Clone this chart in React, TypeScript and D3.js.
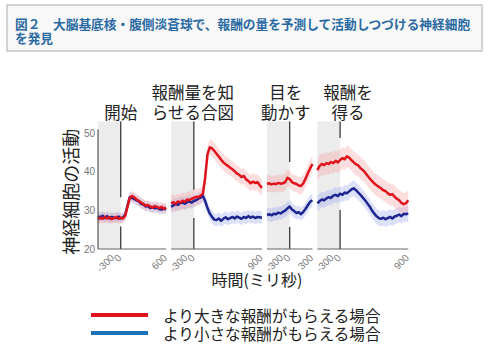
import * as d3 from "d3";

// ---- data ----
const panelTitles = [["開始"], ["報酬量を知", "らせる合図"], ["目を", "動かす"], ["報酬を", "得る"]];
const panelRanges: [number, number][] = [[-300, 600], [-300, 900], [-300, 300], [-300, 900]];
const panelTicks = [[-300, 0, 600], [-300, 0, 900], [-300, 0, 300], [-300, 0, 900]];
const yTicks = [20, 30, 40, 50];

// sample times, 30 ms apart
const sampleStep = 30;

// 大きな報酬 (red)
const bigReward = [
  [27.6, 28.1, 27.8, 28.3, 27.9, 28.2, 27.7, 28.0, 28.3, 27.8, 28.1, 27.9, 28.6, 31.0, 33.2, 33.7, 33.3, 32.8, 32.4, 32.0, 31.6, 31.2, 31.4, 31.0, 30.7, 31.1, 30.9, 30.6, 30.9, 30.4, 30.7],
  [31.8, 32.1, 31.7, 32.3, 32.0, 32.5, 32.2, 32.8, 32.6, 33.0, 33.2, 33.5, 33.4, 33.8, 34.3, 38.5, 44.5, 46.3, 46.0, 45.4, 44.6, 43.9, 43.1, 42.4, 41.9, 41.5, 41.0, 40.6, 40.1, 39.5, 39.2, 38.6, 38.9, 38.0, 37.6, 37.0, 37.4, 37.1, 37.3, 36.5, 35.8],
  [36.8, 37.0, 36.7, 36.9, 36.8, 37.1, 36.9, 37.0, 37.3, 38.4, 38.1, 37.3, 37.0, 36.8, 36.4, 36.3, 37.0, 38.2, 39.6, 40.8, 42.0],
  [40.4, 41.5, 42.0, 41.7, 42.2, 42.0, 42.5, 42.2, 42.8, 42.4, 43.0, 43.5, 43.2, 44.0, 43.6, 43.0, 42.4, 41.9, 41.6, 40.9, 40.4, 39.8, 39.0, 38.3, 37.6, 37.0, 36.5, 36.1, 35.7, 35.2, 35.0, 34.4, 34.0, 34.2, 33.5, 33.0, 32.6, 31.9, 31.6, 31.8, 32.6],
];

// 小さな報酬 (blue)
const smallReward = [
  [28.4, 28.2, 28.6, 28.0, 28.5, 27.9, 28.3, 28.1, 28.0, 28.4, 27.9, 28.2, 28.8, 31.3, 33.4, 33.2, 32.9, 32.6, 32.3, 31.7, 31.5, 31.0, 31.1, 30.6, 30.8, 30.5, 30.7, 30.3, 30.2, 30.4, 30.3],
  [30.9, 31.3, 31.6, 31.4, 31.9, 32.0, 31.7, 32.1, 32.3, 32.0, 32.4, 32.6, 33.0, 33.3, 33.7, 32.4, 30.6, 29.2, 28.3, 27.6, 27.5, 27.9, 27.3, 27.8, 28.2, 27.7, 28.0, 28.3, 27.9, 28.4, 28.1, 27.8, 28.3, 28.0, 28.5, 28.1, 28.4, 28.0, 28.3, 28.2, 28.1],
  [28.8, 29.0, 28.7, 29.1, 29.0, 29.4, 29.2, 29.6, 29.9, 30.5, 31.0, 30.2, 29.8, 29.3, 29.5, 29.0, 29.6, 30.4, 31.3, 32.2, 32.6],
  [31.8, 32.4, 32.8, 32.6, 33.1, 33.4, 33.2, 33.8, 34.0, 33.7, 34.3, 34.0, 34.6, 34.4, 34.9, 35.4, 35.7, 35.2, 34.6, 34.0, 33.3, 32.6, 31.8, 31.0, 30.0, 29.2, 28.5, 28.0, 27.8, 28.1, 27.7, 28.0, 28.3, 27.9, 28.4, 28.6, 28.9, 28.5, 29.1, 29.0, 29.2],
];

// band half widths per panel
const bigSem = [1.3, 2.1, 2.2, 2.8];
const smallSem = [1.3, 1.6, 1.7, 2.0];

// where the 0 ms marker is hidden by the traces
const zeroGaps: [number, number][] = [[25.8, 33.4], [28.0, 35.3], [25.7, 42.5], [30.1, 48.7]];

const legendLabels = ["より大きな報酬がもらえる場合", "より小さな報酬がもらえる場合"];

// ---- layout ----
const W = 490;
const H = 351;
const font = "'Noto Sans CJK JP', 'Noto Sans', sans-serif";
const numFont = "'Liberation Sans', Arial, sans-serif";
const left = 98;
const pxPerMs = 0.0757;
const panelGap = 5;
const titleShift = [0, -1, -4, 8];

const red = "#e0121c";
const navy = "#1d2590";

const y = d3.scaleLinear().domain([20, 50]).range([249, 133]);

type Pt = { t: number; v: number; s: number };

export default function App() {
  let cursor = left;
  const panels = panelRanges.map((r, i) => {
    const w = (r[1] - r[0]) * pxPerMs;
    const x = d3.scaleLinear().domain(r).range([cursor, cursor + w]);
    cursor += w + panelGap;
    const mk = (vals: number[], s: number): Pt[] => vals.map((v, k) => ({ t: r[0] + k * sampleStep, v, s }));
    return { i, x, big: mk(bigReward[i], bigSem[i]), small: mk(smallReward[i], smallSem[i]) };
  });

  return (
    <svg width={W} height={H} style={{ position: "fixed", left: 0, top: 0 }} fontFamily={font}>
      <rect width={W} height={H} fill="#fff" />

      {/* title box */}
      <rect x={7} y={5} width={475} height={46} fill="#f8f8f8" stroke="#c6c6c6" strokeWidth={1.5} />
      <text x={15} y={29} fontSize={12.7} fontWeight="bold" fill="#2a6aa3">
        図２　大脳基底核・腹側淡蒼球で、報酬の量を予測して活動しつづける神経細胞
      </text>
      <text x={15} y={42.5} fontSize={12.7} fontWeight="bold" fill="#2a6aa3">を発見</text>

      {panels.map(({ i, x, big, small }) => {
        const line = d3.line<Pt>().x((d) => x(d.t)).y((d) => y(d.v));
        const area = d3.area<Pt>().x((d) => x(d.t)).y0((d) => y(d.v - d.s)).y1((d) => y(d.v + d.s));
        const [x0, x1] = x.range();
        const gap = zeroGaps[i];
        return (
          <g key={i}>
            <rect x={x0} y={y(53)} width={x(0) - x0} height={y(20) - y(53)} fill="#ececec" />
            <line x1={x(0)} x2={x(0)} y1={y(53)} y2={y(gap[1])} stroke="#3a3a3a" strokeWidth={1.3} />
            <line x1={x(0)} x2={x(0)} y1={y(gap[0])} y2={y(20)} stroke="#3a3a3a" strokeWidth={1.3} />
            <path d={area(small) ?? ""} fill="#9ea6ee" fillOpacity={0.35} />
            <path d={area(big) ?? ""} fill="#f6a0a0" fillOpacity={0.35} />
            <path d={line(small) ?? ""} fill="none" stroke={navy} strokeWidth={2.5} strokeLinejoin="round" />
            <path d={line(big) ?? ""} fill="none" stroke={red} strokeWidth={2.5} strokeLinejoin="round" />
            <line x1={x0} x2={x1} y1={y(20)} y2={y(20)} stroke="#666" strokeWidth={1.2} />
            {panelTicks[i].map((t) => (
              <text
                key={t}
                transform={`translate(${x(t) + (t < 0 ? 17 : 1.5)},${y(20) + 9.5}) rotate(-45)`}
                textAnchor="end"
                fontSize={10}
                fill="#777"
                fontFamily={numFont}
              >
                {t}
              </text>
            ))}
            {panelTitles[i].map((s, k, arr) => (
              <text
                key={s}
                x={x(0) + titleShift[i]}
                y={119 - (arr.length - 1 - k) * 20.5}
                textAnchor="middle"
                fontSize={16.5}
                fill="#222"
              >
                {s}
              </text>
            ))}
          </g>
        );
      })}

      {/* y axis */}
      <line x1={left} x2={left} y1={y(51)} y2={y(20)} stroke="#555" strokeWidth={1.2} />
      {yTicks.map((t) => (
        <text key={t} x={left - 3} y={y(t)} dy="0.35em" textAnchor="end" fontSize={10} fill="#777" fontFamily={numFont}>
          {t}
        </text>
      ))}
      <text transform={`translate(78,${y(34.8)}) rotate(-90)`} textAnchor="middle" fontSize={18} fill="#222">
        神経細胞の活動
      </text>

      <text x={257} y={286} textAnchor="middle" fontSize={16} fill="#222">時間(ミリ秒)</text>

      {/* legend */}
      {[red, "#1a72b8"].map((c, k) => (
        <g key={c}>
          <line x1={91} x2={148} y1={315 + k * 18} y2={315 + k * 18} stroke={c} strokeWidth={4} />
          <text x={163} y={322 + k * 18} fontSize={15.6} fill="#222">{legendLabels[k]}</text>
        </g>
      ))}
    </svg>
  );
}
